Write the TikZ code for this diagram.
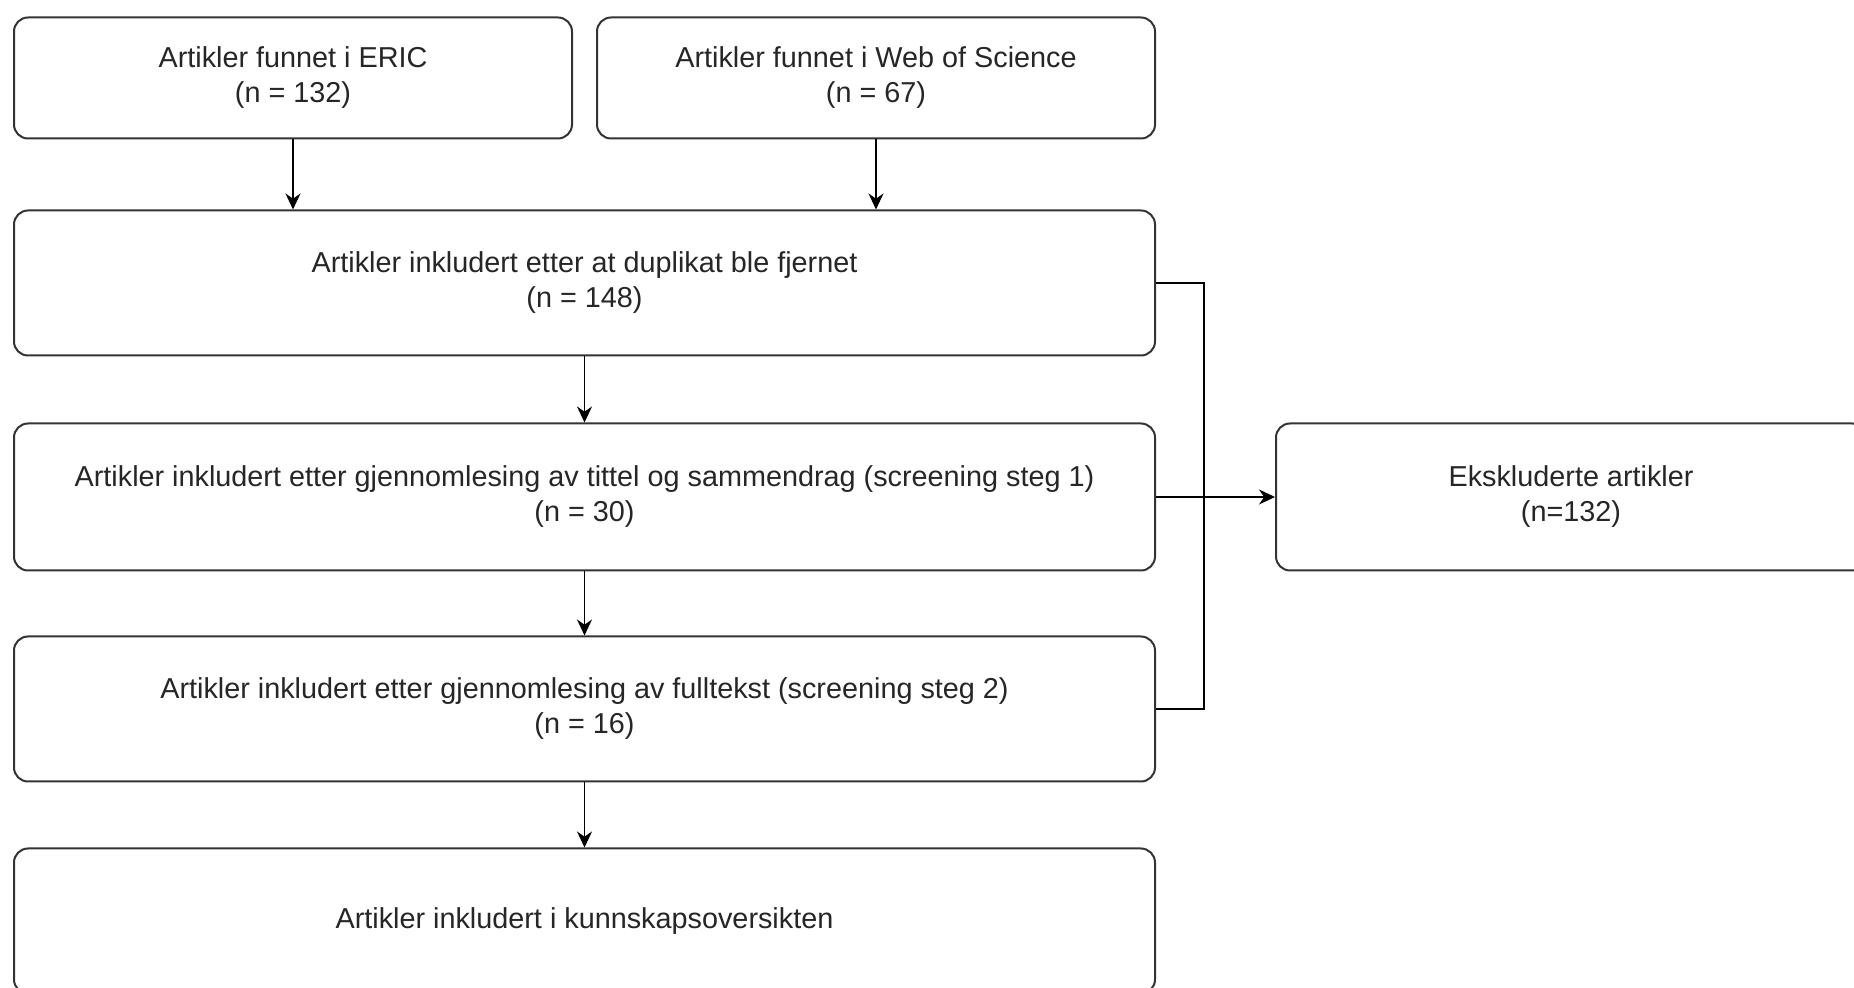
\documentclass[tikz,border=0pt]{standalone}
\usepackage{fontspec}
\setmainfont{Liberation Sans}
\usetikzlibrary{arrows.meta}

\begin{document}
\begin{tikzpicture}[x=0.5pt, y=-0.5pt]

        % 1. Page frame (the right and bottom boxes run off the page)
        \useasboundingbox (0,0) rectangle (1854,988);
        \clip (0,0) rectangle (1854,988);

        \tikzset{stepbox/.style={draw=black!80, line width=1pt, rounded corners=7pt, fill=white, align=center, text=black!85, font=\fontsize{14.4}{17.5}\selectfont, inner sep=0pt}} % Set box style
        \tikzset{flow/.style={draw=black, line width=0.8pt, -{Stealth[length=8pt, width=7.5pt]}}}

        % 2. Search boxes
        \node[stepbox, minimum width=279pt, minimum height=60.5pt] (eric) at (293, 78) {Artikler funnet i ERIC\\(n = 132)};
        \node[stepbox, minimum width=279pt, minimum height=60.5pt] (wos) at (876, 78) {Artikler funnet i Web of Science\\(n = 67)};

        % 3. Main column of screening steps
        \node[stepbox, minimum width=570.5pt, minimum height=72.5pt] (dupl) at (584.5, 283) {Artikler inkludert etter at duplikat ble fjernet\\(n = 148)};
        \node[stepbox, minimum width=570.5pt, minimum height=73.5pt] (screen1) at (584.5, 497) {Artikler inkludert etter gjennomlesing av tittel og sammendrag (screening steg 1)\\(n = 30)};
        \node[stepbox, minimum width=570.5pt, minimum height=72.5pt] (screen2) at (584.5, 709) {Artikler inkludert etter gjennomlesing av fulltekst (screening steg 2)\\(n = 16)};
        \node[stepbox, minimum width=570.5pt, minimum height=72.5pt] (final) at (584.5, 921) {Artikler inkludert i kunnskapsoversikten};

        % 4. Excluded articles
        \node[stepbox, minimum width=295pt, minimum height=73.5pt] (excl) at (1571, 497) {Ekskluderte artikler\\(n=132)};

        % 5. Arrows down the column
        \draw[flow] (eric) -- (eric.south |- dupl.north);
        \draw[flow] (wos) -- (wos.south |- dupl.north);
        \draw[flow] (dupl) -- (screen1);
        \draw[flow] (screen1) -- (screen2);
        \draw[flow] (screen2) -- (final);

        % 6. Bracket on the right and arrow to the excluded box
        \coordinate (brtop) at (1204, 283);
        \coordinate (brbot) at (1204, 709);
        \draw[black, line width=0.8pt] (dupl.east) -- (brtop) -- (brbot) -- (screen2.east);
        \draw[flow] (screen1.east) -- (excl.west);

    \end{tikzpicture}
\end{document}
